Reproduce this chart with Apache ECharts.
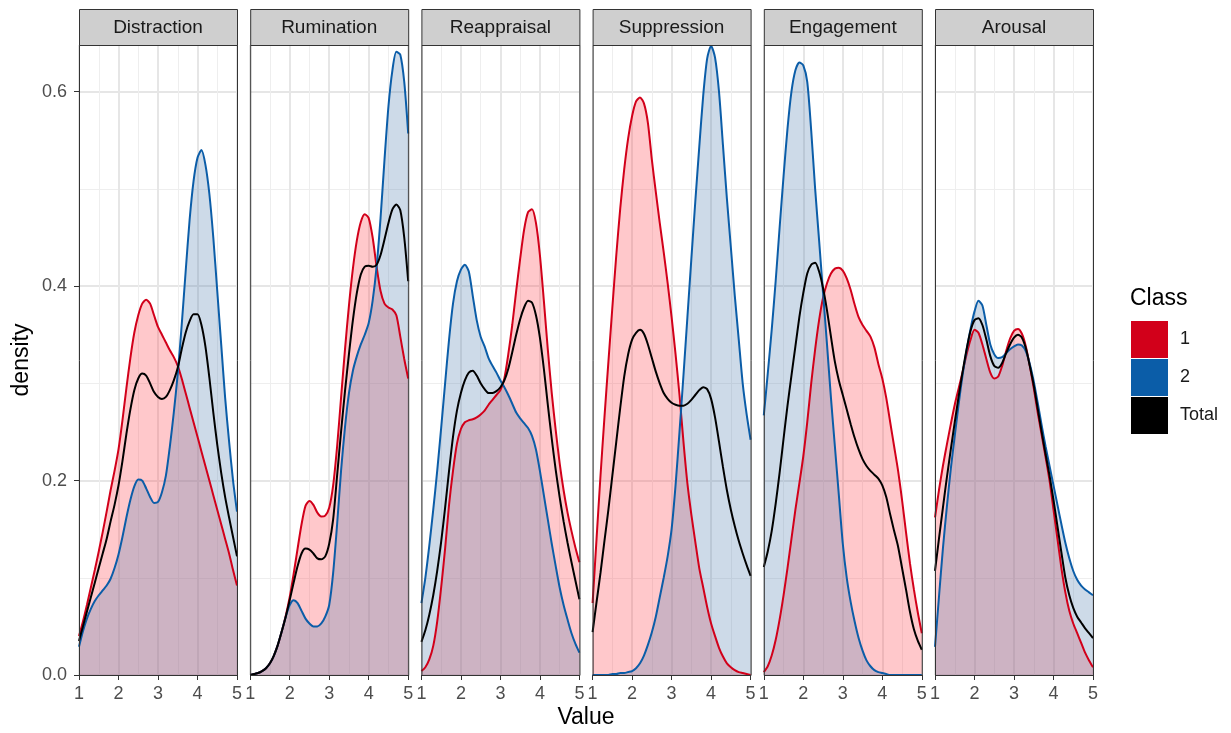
<!DOCTYPE html>
<html>
<head>
<meta charset="utf-8">
<script src="https://cdn.jsdelivr.net/npm/echarts@6/dist/echarts.min.js"></script>
<style>html,body{margin:0;padding:0;background:#fff}#c{width:1231px;height:733px}</style>
</head>
<body>
<div id="c"></div>
<script>
// ---------- data ----------
const xs = [1.0,1.1,1.2,1.3,1.4,1.5,1.6,1.7,1.8,1.9,2.0,2.1,2.2,2.3,2.4,2.5,2.6,2.7,2.8,2.9,3.0,3.1,3.2,3.3,3.4,3.5,3.6,3.7,3.8,3.9,4.0,4.1,4.2,4.3,4.4,4.5,4.6,4.7,4.8,4.9,5.0];
const facets = ['Distraction','Rumination','Reappraisal','Suppression','Engagement','Arousal'];
const classNames = ['1','2','Total'];
const xTicks = [1,2,3,4,5];
const yTicks = [0,0.2,0.4,0.6];

const distraction1 = [.040,.055,.072,.090,.108,.127,.147,.168,.190,.210,.232,.262,.295,.326,.352,.370,.382,.386,.382,.370,.358,.350,.342,.334,.327,.318,.305,.290,.275,.260,.245,.230,.215,.200,.185,.170,.155,.140,.125,.108,.092];
const distraction2 = [.029,.045,.058,.068,.076,.082,.087,.092,.099,.110,.124,.142,.162,.180,.194,.201,.200,.192,.183,.177,.178,.188,.205,.235,.270,.310,.360,.415,.468,.508,.532,.540,.525,.495,.450,.395,.340,.285,.240,.200,.168];
const distractionT = [.035,.050,.065,.080,.095,.110,.125,.140,.158,.175,.195,.220,.248,.273,.293,.305,.310,.308,.300,.291,.286,.284,.286,.293,.303,.316,.335,.352,.364,.371,.371,.360,.338,.306,.270,.237,.208,.183,.162,.142,.122];

const rumination1 = [.000,.001,.002,.004,.007,.012,.020,.031,.045,.061,.080,.104,.130,.155,.174,.179,.175,.167,.163,.164,.172,.195,.235,.285,.335,.380,.418,.447,.466,.474,.470,.450,.420,.395,.382,.378,.376,.370,.348,.325,.305];
const rumination2 = [.000,.001,.002,.004,.007,.012,.020,.031,.045,.060,.072,.077,.074,.066,.058,.053,.050,.050,.053,.060,.072,.105,.155,.210,.255,.290,.313,.328,.340,.350,.362,.385,.420,.470,.530,.585,.622,.641,.638,.610,.557];
const ruminationT = [.000,.001,.002,.004,.007,.012,.020,.031,.045,.060,.077,.095,.112,.125,.130,.129,.125,.120,.119,.122,.135,.160,.205,.250,.292,.330,.365,.393,.412,.420,.421,.420,.422,.432,.448,.465,.479,.484,.478,.450,.405];

const reappraisal1 = [.004,.008,.016,.030,.055,.090,.130,.175,.210,.238,.253,.260,.262,.263,.265,.268,.272,.278,.283,.288,.293,.305,.330,.360,.395,.428,.458,.476,.479,.465,.432,.385,.335,.290,.252,.218,.190,.167,.148,.131,.116];
const reappraisal2 = [.074,.100,.133,.170,.210,.254,.300,.345,.382,.405,.417,.422,.415,.390,.365,.348,.338,.326,.318,.311,.303,.296,.288,.279,.270,.264,.259,.254,.246,.232,.210,.185,.160,.135,.112,.090,.072,.057,.043,.032,.023];
const reappraisalT = [.034,.046,.062,.082,.107,.137,.172,.210,.245,.272,.290,.303,.311,.313,.308,.300,.294,.290,.290,.292,.296,.303,.315,.332,.350,.366,.378,.385,.383,.370,.347,.315,.278,.243,.211,.183,.158,.136,.116,.097,.078];

const suppression1 = [.074,.140,.205,.265,.322,.378,.432,.480,.520,.552,.575,.590,.594,.588,.568,.530,.497,.465,.435,.403,.368,.330,.288,.240,.197,.165,.137,.110,.090,.070,.053,.040,.028,.019,.012,.008,.005,.003,.002,.001,.000];
const suppression2 = [.000,.000,.000,.000,.000,.001,.001,.002,.002,.003,.004,.007,.012,.020,.031,.044,.060,.080,.100,.122,.150,.195,.250,.308,.368,.428,.487,.543,.596,.634,.647,.635,.600,.545,.490,.440,.390,.345,.300,.268,.242];
const suppressionT = [.044,.075,.105,.138,.170,.205,.240,.275,.307,.330,.345,.352,.355,.351,.340,.326,.312,.300,.290,.284,.280,.278,.277,.277,.279,.283,.288,.293,.296,.294,.284,.265,.240,.214,.190,.170,.153,.138,.125,.113,.102];

const engagement1 = [.003,.009,.020,.036,.057,.082,.110,.140,.170,.197,.225,.260,.300,.335,.365,.388,.403,.413,.418,.419,.416,.408,.396,.381,.368,.360,.354,.348,.337,.320,.305,.285,.260,.235,.210,.180,.147,.115,.088,.064,.043];
const engagement2 = [.267,.310,.355,.405,.460,.513,.562,.600,.622,.630,.627,.610,.560,.500,.447,.393,.340,.285,.235,.185,.135,.100,.075,.055,.038,.025,.015,.009,.005,.003,.002,.001,.000,.000,.000,.000,.000,.000,.000,.000,.000];
const engagementT = [.111,.127,.148,.176,.208,.243,.277,.308,.338,.368,.393,.413,.422,.424,.415,.398,.375,.348,.322,.303,.288,.273,.258,.244,.232,.222,.215,.210,.206,.202,.195,.183,.165,.148,.132,.110,.088,.065,.047,.035,.026];

const arousal1 = [.162,.190,.215,.237,.258,.278,.295,.312,.330,.345,.355,.352,.340,.325,.311,.305,.307,.318,.333,.346,.354,.356,.351,.338,.318,.295,.270,.247,.224,.200,.170,.140,.110,.085,.066,.053,.043,.033,.023,.015,.008];
const arousal2 = [.029,.080,.130,.173,.212,.246,.279,.309,.334,.356,.374,.385,.380,.360,.340,.330,.326,.327,.331,.335,.338,.340,.339,.333,.320,.302,.280,.257,.235,.215,.195,.175,.155,.136,.120,.107,.098,.092,.088,.085,.082];
const arousalT = [.107,.140,.172,.203,.232,.260,.287,.312,.335,.354,.365,.367,.360,.345,.328,.318,.316,.321,.331,.340,.347,.350,.347,.336,.318,.298,.274,.250,.227,.205,.180,.153,.126,.100,.082,.069,.060,.054,.048,.043,.038];

const facetData = [
  [distraction1, distraction2, distractionT],
  [rumination1, rumination2, ruminationT],
  [reappraisal1, reappraisal2, reappraisalT],
  [suppression1, suppression2, suppressionT],
  [engagement1, engagement2, engagementT],
  [arousal1, arousal2, arousalT]
];
const yMax = 0.648;

// ---------- styling / layout ----------
const FONT = 'Liberation Sans, Arial, Helvetica, sans-serif';
const lineColors = ['#D2001A', '#0B5DA8', '#000000'];
const fillColors = ['rgb(255,72,82)', 'rgb(88,132,178)', null];
const L0 = 79, STEP = 171.2, PW = 158, TOP = 45, PH = 630, STRIP_TOP = 9;
const MAJOR_GRID = '#E6E6E6';
const MINOR_GRID = '#EEEEEE';

const grids = [], xAxes = [], yAxes = [], series = [], graphics = [];

facets.forEach((name, i) => {
  const left = L0 + i * STEP;
  grids.push({ left: left, top: TOP, width: PW, height: PH, containLabel: false });

  xAxes.push({
    type: 'value', gridIndex: i, min: 1, max: 5, interval: 1, position: 'bottom',
    axisLine: { show: false },
    axisTick: { show: true, length: 5, lineStyle: { color: '#333333', width: 1 } },
    axisLabel: { show: true, fontSize: 18, color: '#4D4D4D', margin: 10, fontFamily: FONT },
    splitLine: { show: true, lineStyle: { color: MAJOR_GRID, width: 2 } },
    minorTick: { show: false, splitNumber: 2 },
    minorSplitLine: { show: true, lineStyle: { color: MINOR_GRID, width: 1 } }
  });

  // minor horizontal grid (every 0.1)
  yAxes.push({
    type: 'value', gridIndex: i, min: 0, max: yMax, interval: 0.1, position: 'left',
    axisLine: { show: false }, axisTick: { show: false }, axisLabel: { show: false },
    splitLine: { show: true, lineStyle: { color: MINOR_GRID, width: 1 } }
  });
  // major axis
  yAxes.push({
    type: 'value', gridIndex: i, min: 0, max: yMax, interval: 0.2, position: 'left',
    axisLine: { show: false },
    axisTick: { show: i === 0, length: 5, customValues: yTicks, lineStyle: { color: '#333333', width: 1 } },
    axisLabel: {
      show: i === 0, fontSize: 18, color: '#4D4D4D', margin: 12, fontFamily: FONT,
      customValues: yTicks,
      formatter: v => (Math.abs(v / 0.2 - Math.round(v / 0.2)) < 1e-6 ? v.toFixed(1) : '')
    },
    splitLine: { show: true, lineStyle: { color: MAJOR_GRID, width: 2 } }
  });

  facetData[i].forEach((arr, k) => {
    const s = {
      type: 'line', name: classNames[k],
      xAxisIndex: i, yAxisIndex: 2 * i + 1,
      data: xs.map((x, j) => [x, arr[j]]),
      showSymbol: false, symbol: 'none', smooth: 0.25,
      lineStyle: { color: lineColors[k], width: 2 },
      itemStyle: { color: lineColors[k] },
      emphasis: { disabled: true },
      silent: true
    };
    if (fillColors[k]) s.areaStyle = { color: fillColors[k], opacity: 0.3 };
    series.push(s);
  });

  // strip
  graphics.push({
    type: 'rect', z: 100,
    shape: { x: left + 0.5, y: STRIP_TOP + 0.5, width: PW, height: TOP - STRIP_TOP },
    style: { fill: '#CFCFCF', stroke: '#333333', lineWidth: 1 }
  });
  graphics.push({
    type: 'text', z: 101, x: left + PW / 2, y: (STRIP_TOP + TOP) / 2 + 0.5,
    style: { text: name, fontSize: 19, fontFamily: FONT, fill: '#1A1A1A',
             align: 'center', verticalAlign: 'middle', textAlign: 'center', textVerticalAlign: 'middle' }
  });
  // panel border
  graphics.push({
    type: 'rect', z: 100,
    shape: { x: left + 0.5, y: TOP + 0.5, width: PW, height: PH },
    style: { fill: 'none', stroke: '#333333', lineWidth: 1 }
  });
});

// axis titles & legend title
graphics.push({
  type: 'text', z: 101, x: 586, y: 718,
  style: { text: 'Value', fontSize: 23, fontFamily: FONT, fill: '#000',
           align: 'center', verticalAlign: 'middle', textAlign: 'center', textVerticalAlign: 'middle' }
});
graphics.push({
  type: 'text', z: 101, x: 22, y: 360, rotation: Math.PI / 2,
  style: { text: 'density', fontSize: 23, fontFamily: FONT, fill: '#000',
           align: 'center', verticalAlign: 'middle', textAlign: 'center', textVerticalAlign: 'middle' }
});
graphics.push({
  type: 'text', z: 101, x: 1130, y: 299,
  style: { text: 'Class', fontSize: 23, fontFamily: FONT, fill: '#000',
           align: 'left', verticalAlign: 'middle', textAlign: 'left', textVerticalAlign: 'middle' }
});

const chart = echarts.init(document.getElementById('c'), null, { renderer: 'canvas' });
chart.setOption({
  animation: false,
  backgroundColor: '#ffffff',
  textStyle: { fontFamily: FONT },
  grid: grids,
  xAxis: xAxes,
  yAxis: yAxes,
  legend: {
    orient: 'vertical', left: 1131, top: 321, padding: 0,
    itemWidth: 37, itemHeight: 37, itemGap: 1,
    selectedMode: false, icon: 'rect',
    textStyle: { fontSize: 18, color: '#1A1A1A', fontFamily: FONT, padding: [0, 0, 0, 7] },
    data: classNames.map((n, k) => ({ name: n, icon: 'rect', itemStyle: { color: lineColors[k], borderWidth: 0, opacity: 1 } }))
  },
  series: series,
  graphic: graphics
});
</script>
</body>
</html>
